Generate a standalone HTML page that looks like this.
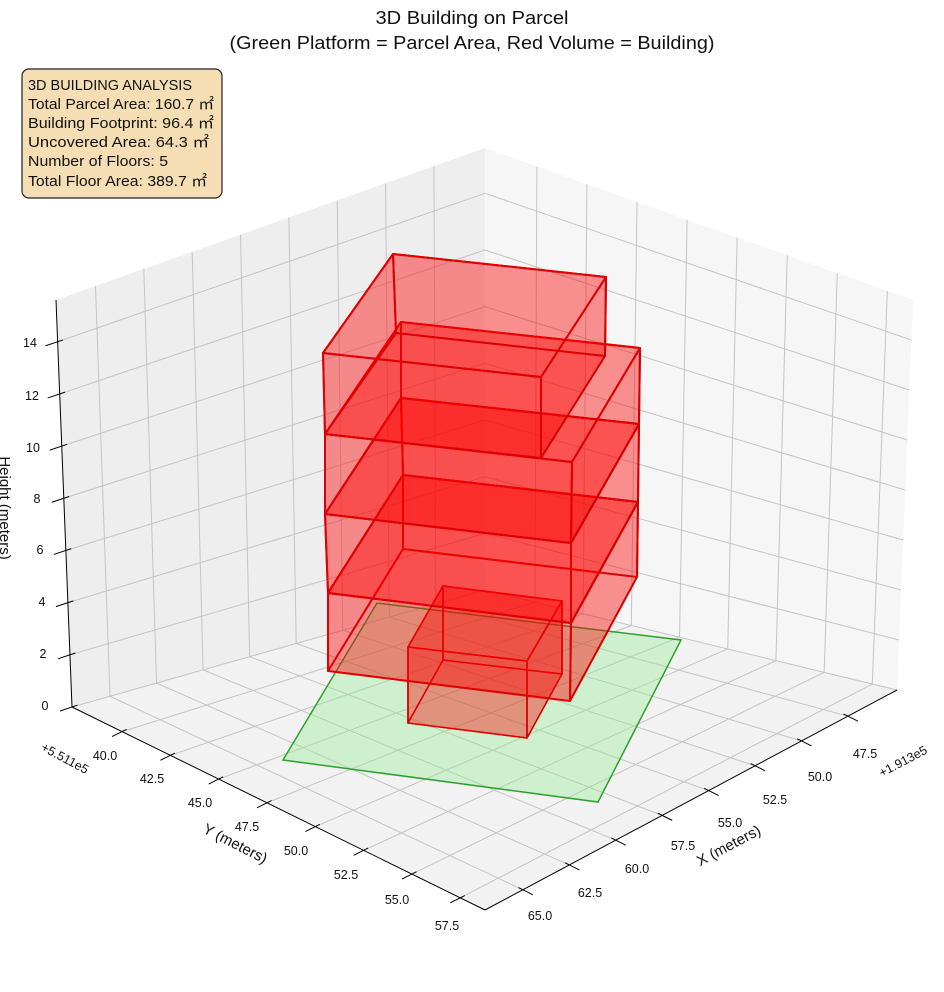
<!DOCTYPE html>
<html><head><meta charset="utf-8"><style>
html,body{margin:0;padding:0;background:#fff;}
svg{display:block;font-family:"Liberation Sans","DejaVu Sans",sans-serif;}
</style></head><body>
<svg id="s" width="944" height="992" viewBox="0 0 944 992" xmlns="http://www.w3.org/2000/svg">
<g id="panes">
<polygon points="72,707 485,590 485,148 56,300" fill="#eeeeee"/>
<polygon points="485,590 897,690 913,300 485,148" fill="#f6f6f6"/>
<polygon points="72,707 485,590 897,690 485,910" fill="#f2f2f2"/>
</g>
<g id="grid" stroke="#c4c4c4" stroke-width="1" fill="none"></g>
<g id="axes" stroke="#000" stroke-width="1" fill="none"></g>
<polygon points="283,760 377,603 681,640 598,802" fill="rgba(144,238,144,0.35)" stroke="#2ca02c" stroke-width="1.5"/>
<g id="bld"></g>
<g font-size="12.5" fill="#111" text-anchor="middle">
<text x="105" y="760">40.0</text><text x="152" y="783">42.5</text><text x="200" y="807">45.0</text><text x="247" y="831">47.5</text><text x="296" y="855">50.0</text><text x="346" y="879">52.5</text><text x="397" y="904">55.0</text><text x="447" y="930">57.5</text>
<text x="540" y="920">65.0</text><text x="590" y="897">62.5</text><text x="637" y="873">60.0</text><text x="683" y="850">57.5</text><text x="730" y="827">55.0</text><text x="775" y="804">52.5</text><text x="820" y="781">50.0</text><text x="865" y="758">47.5</text>
<text x="45" y="710">0</text><text x="43" y="658">2</text><text x="42" y="606">4</text><text x="40" y="554">6</text><text x="37" y="503">8</text><text x="33" y="452">10</text><text x="32" y="400">12</text><text x="30" y="347">14</text>
<text transform="translate(63,762) rotate(28)">+5.511e5</text>
<text transform="translate(905,765) rotate(-28)">+1.913e5</text>
</g>
<g font-size="15" fill="#111" text-anchor="middle">
<text transform="translate(233,848) rotate(27)">Y (meters)</text>
<text transform="translate(731,850) rotate(-28)">X (meters)</text>
<text transform="translate(0,508) rotate(90)">Height (meters)</text>
</g>
<g font-size="18" fill="#111" text-anchor="middle">
<text x="472" y="24" textLength="193" lengthAdjust="spacingAndGlyphs">3D Building on Parcel</text>
<text x="472" y="49" textLength="485" lengthAdjust="spacingAndGlyphs">(Green Platform = Parcel Area, Red Volume = Building)</text>
</g>
<rect x="22" y="69" width="200" height="129" rx="7" fill="#f5deb3" stroke="#222" stroke-width="1.2"/>
<g font-size="15" fill="#111">
<text x="28" y="90" textLength="164" lengthAdjust="spacingAndGlyphs">3D BUILDING ANALYSIS</text>
<text x="28" y="109" textLength="186" lengthAdjust="spacingAndGlyphs">Total Parcel Area: 160.7 ㎡</text>
<text x="28" y="128" textLength="186" lengthAdjust="spacingAndGlyphs">Building Footprint: 96.4 ㎡</text>
<text x="28" y="147" textLength="181" lengthAdjust="spacingAndGlyphs">Uncovered Area: 64.3 ㎡</text>
<text x="28" y="166" textLength="140" lengthAdjust="spacingAndGlyphs">Number of Floors: 5</text>
<text x="28" y="186" textLength="179" lengthAdjust="spacingAndGlyphs">Total Floor Area: 389.7 ㎡</text>
</g>
</svg>
<script>
(function(){
var NS="http://www.w3.org/2000/svg";
function L(g,a,b,attrs){var e=document.createElementNS(NS,"line");e.setAttribute("x1",a[0]);e.setAttribute("y1",a[1]);e.setAttribute("x2",b[0]);e.setAttribute("y2",b[1]);if(attrs)for(var k in attrs)e.setAttribute(k,attrs[k]);g.appendChild(e);}
var B00=[485,590],B10=[72,707],B01=[897,690],B11=[485,910];
var T00=[485,148],T10=[56,300],T01=[913,300];var T11=[T10[0]+T01[0]-T00[0],T10[1]+T01[1]-T00[1]];
function bl(a,b,c,d,u,v){return[a[0]*(1-u)*(1-v)+b[0]*u*(1-v)+c[0]*(1-u)*v+d[0]*u*v,a[1]*(1-u)*(1-v)+b[1]*u*(1-v)+c[1]*(1-u)*v+d[1]*u*v];}
function P(u,v,w){var b=bl(B00,B10,B01,B11,u,v),t=bl(T00,T10,T01,T11,u,v);return[b[0]+(t[0]-b[0])*w,b[1]+(t[1]-b[1])*w];}
var g=document.getElementById("grid"),ax=document.getElementById("axes");
var xs=[],ys=[],zs=[];
for(var X=47.5;X<=65.01;X+=2.5)xs.push((X-44.86)/22.18);
for(var Y=40;Y<=57.51;Y+=2.5)ys.push((Y-37.41)/21.37);
for(var Z=0;Z<=14;Z+=2)zs.push(Z/15.6);
xs.forEach(function(u){L(g,P(u,0,0),P(u,1,0));L(g,P(u,0,0),P(u,0,1));});
ys.forEach(function(v){L(g,P(0,v,0),P(1,v,0));L(g,P(0,v,0),P(0,v,1));});
zs.forEach(function(w){L(g,P(0,0,w),P(1,0,w));L(g,P(0,0,w),P(0,1,w));});
L(ax,P(1,0,0),P(1,0,1));L(ax,P(1,0,0),P(1,1,0));L(ax,P(1,1,0),P(0,1,0));
function tick(p,dx,dy){L(ax,[p[0]-dx*0.45,p[1]-dy*0.45],[p[0]+dx,p[1]+dy]);}
xs.forEach(function(u){tick(P(u,1,0),10,5);});
ys.forEach(function(v){tick(P(1,v,0),-10,5);});
zs.forEach(function(w){tick(P(1,0,w),-12,4);});
var bld=document.getElementById("bld");
function poly(pts,fill,op,stroke,sw){var e=document.createElementNS(NS,"polygon");e.setAttribute("points",pts.map(function(p){return p.join(",");}).join(" "));e.setAttribute("fill",fill);e.setAttribute("fill-opacity",op);e.setAttribute("stroke",stroke);e.setAttribute("stroke-width",sw);e.setAttribute("stroke-linejoin","round");bld.appendChild(e);}
function box(b,t,op,sw){
var faces=[[b[0],b[1],b[2],b[3]],[b[3],b[2],t[2],t[3]],[b[0],b[3],t[3],t[0]],[b[1],b[2],t[2],t[1]],[b[0],b[1],t[1],t[0]],[t[0],t[1],t[2],t[3]]];
faces.forEach(function(f,i){poly(f,"#ff0000",op,i<4?"#d40000":"#e00000",i<1?1.2:sw);});
}
box([[408,723],[527,738],[562,674],[443,660]],[[408,647],[527,661],[562,601],[443,586]],0.22,1.6);
box([[328,671],[570,701],[637,577],[403,549]],[[328,593],[571,623],[638,502],[403,475]],0.24,2);
box([[328,593],[571,623],[638,502],[403,475]],[[325,514],[571,543],[639,424],[401,398]],0.24,2);
box([[325,514],[571,543],[639,424],[401,398]],[[325,434],[572,462],[640,348],[401,322]],0.24,2);
box([[325,434],[541,458],[605,356],[396,333]],[[323,353],[541,377],[606,277],[393,254]],0.24,2);
})();
</script>
</body></html>
